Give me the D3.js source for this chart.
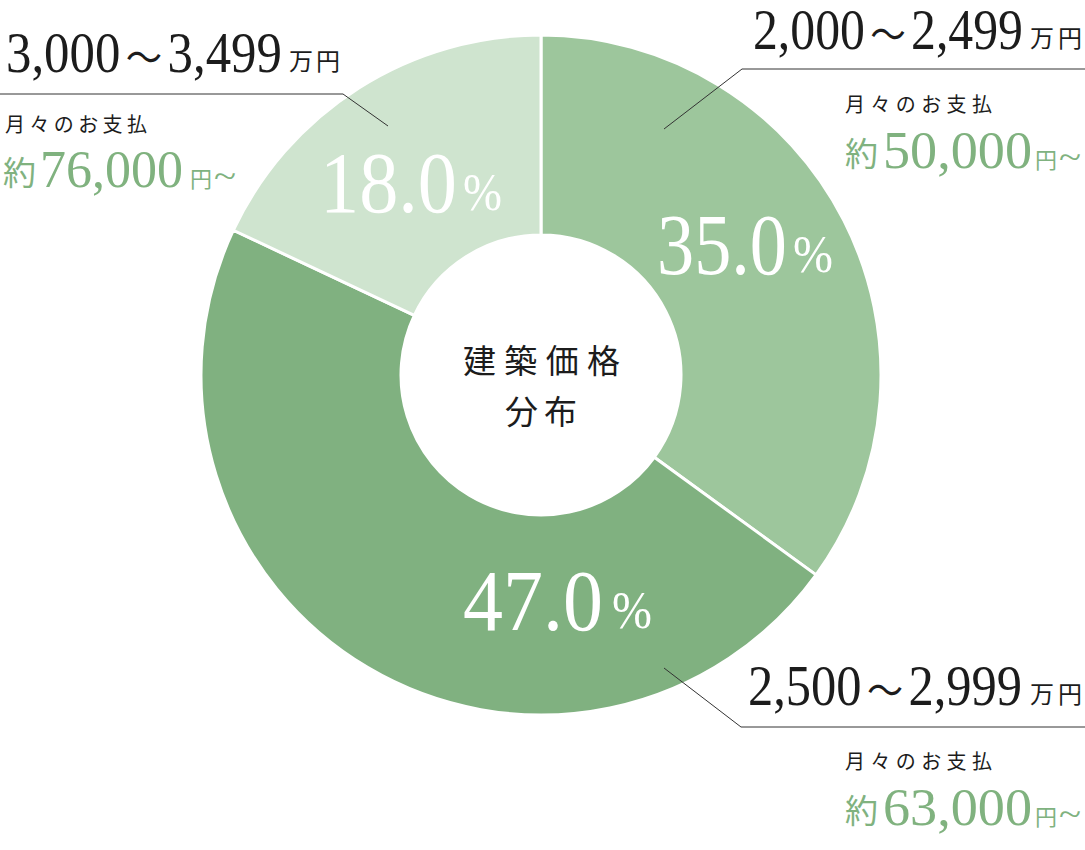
<!DOCTYPE html>
<html><head><meta charset="utf-8">
<script src="https://cdn.jsdelivr.net/npm/d3@7"></script>
<style>
html,body{margin:0;padding:0;background:#fff;}
svg{display:block;}
</style></head>
<body>
<svg id="c" width="1085" height="850"></svg>
<script>
// ---- data ----
const rangeFrom = ["2,000", "2,500", "3,000"];
const rangeTo = ["2,499", "2,999", "3,499"];
const shares = [35.0, 47.0, 18.0];
const monthly = ["50,000", "63,000", "76,000"];
const unitLabel = "万円";
const payLabel = "月々のお支払";
const centerTitle = ["建築価格", "分布"];

// ---- style / layout (not data) ----
const colors = ["#9dc69c", "#80b180", "#cfe4cf"];
const green = "#80b27f";
const ink = "#1c1c1c";
const serif = "'Liberation Serif','Times New Roman',serif";
const cjk = "'Noto Sans CJK JP','Noto Sans JP',sans-serif";
const cx = 541, cy = 375, rOuter = 340, rInner = 140;

const layout = [
  { rangeX: 753, rangeY: 49, rangeW: 270, unitX: 1030, unitW: 52,
    payX: 845, payY: 114, payW: 147,
    yakuX: 845, amtX: 883, amtW: 149, yenX: 1035, amtY: 168,
    leader: [[664,129],[742,69],[1085,69]],
    pct: { x: 657, y: 274, w: 130, px: 793, pw: 40 } },
  { rangeX: 748, rangeY: 705, rangeW: 274, unitX: 1030, unitW: 52,
    payX: 845, payY: 771, payW: 147,
    yakuX: 845, amtX: 883, amtW: 149, yenX: 1035, amtY: 825,
    leader: [[664,668],[741,727],[1085,727]],
    pct: { x: 463, y: 630, w: 140, px: 612, pw: 40 } },
  { rangeX: 6, rangeY: 72, rangeW: 276, unitX: 289, unitW: 51,
    payX: 5, payY: 134, payW: 142,
    yakuX: 3, amtX: 40, amtW: 143, yenX: 190, amtY: 187,
    leader: [[388,126],[343,94],[0,94]],
    pct: { x: 320, y: 212, w: 137, px: 463, pw: 39 } }
];

const svg = d3.select("#c");
const g = svg.append("g").attr("transform", `translate(${cx},${cy})`);

const pie = d3.pie().sort(null).value(d => d)(shares);
const arc = d3.arc().innerRadius(rInner).outerRadius(rOuter);

g.selectAll("path.slice").data(pie).join("path")
  .attr("class", "slice")
  .attr("d", arc)
  .attr("fill", (d, i) => colors[i])
  .attr("stroke", "#fff").attr("stroke-width", 3).attr("stroke-linejoin", "round");

function fit(t, x, y, w) {
  const n = t.node().getBBox().width;
  t.attr("transform", `translate(${x},${y}) scale(${w / n},1)`);
  return t;
}
function squeezed(str, x, y, w, font, size, fill) {
  const t = svg.append("text").attr("font-family", font).attr("font-size", size)
    .attr("fill", fill).text(str);
  return fit(t, x, y, w);
}
function spaced(str, x, y, w, font, size, fill) {
  const t = svg.append("text").attr("x", x).attr("y", y).attr("font-family", font)
    .attr("font-size", size).attr("fill", fill).text(str);
  const n = t.node().getComputedTextLength();
  const k = str.length > 1 ? (w - n) / (str.length - 1) : 0;
  t.attr("letter-spacing", k);
  return t;
}

// percentage labels
pie.forEach((d, i) => {
  const p = layout[i].pct;
  squeezed(shares[i].toFixed(1), p.x, p.y, p.w, serif, 87, "#fff");
  squeezed("%", p.px, p.y - 2, p.pw, serif, 52, "#fff");
});

// center title
spaced(centerTitle[0], 463, 373, 157, cjk, 33, ink);
spaced(centerTitle[1], 505, 424, 72, cjk, 33, ink);

// leaders & side labels
const line = d3.line();
shares.forEach((s, i) => {
  const L = layout[i];
  svg.append("path").attr("d", line(L.leader))
    .attr("fill", "none").attr("stroke", "#333").attr("stroke-width", 1);

  const t = svg.append("text").attr("font-family", serif).attr("font-size", 56).attr("fill", ink);
  t.append("tspan").text(rangeFrom[i]);
  t.append("tspan").attr("font-family", cjk).attr("font-size", 40).attr("dx", 6).text("～");
  t.append("tspan").attr("dx", 6).text(rangeTo[i]);
  fit(t, L.rangeX, L.rangeY, L.rangeW);

  spaced(unitLabel, L.unitX, L.rangeY - 2, L.unitW, cjk, 24, ink);
  spaced(payLabel, L.payX, L.payY - 2, L.payW, cjk, 20, ink);

  svg.append("text").attr("x", L.yakuX).attr("y", L.amtY - 2)
    .attr("font-family", cjk).attr("font-size", 33).attr("fill", green)
    .text("約");
  squeezed(monthly[i], L.amtX, L.amtY, L.amtW, serif, 52, green);
  svg.append("text").attr("x", L.yenX).attr("y", L.amtY)
    .attr("font-family", cjk).attr("font-size", 22).attr("fill", green)
    .text("円");
  squeezed("~", L.yenX + 24, L.amtY, 22, serif, 34, green);
});
</script>
</body></html>
